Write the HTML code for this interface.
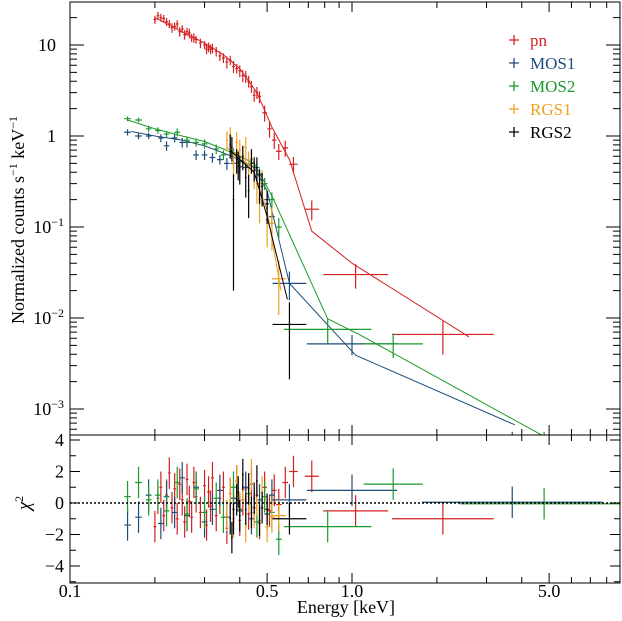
<!DOCTYPE html>
<html><head><meta charset="utf-8"><style>
body{margin:0;background:#fff;}
svg{display:block;font-family:"Liberation Serif",serif;}
</style></head><body>
<svg id="chart" width="622" height="621" viewBox="0 0 622 621" xmlns="http://www.w3.org/2000/svg">
<g id="marks"></g>
<g id="axes"></g>
<text x="346" y="613" font-size="18" text-anchor="middle">Energy [keV]</text>
<text transform="translate(24,220) rotate(-90)" font-size="18" text-anchor="middle">Normalized counts s<tspan dy="-7" font-size="12">−1</tspan><tspan dy="7"> keV</tspan><tspan dy="-7" font-size="12">−1</tspan></text>
<text transform="translate(30,503) rotate(-90)" font-size="19" text-anchor="middle" font-style="italic">χ<tspan dy="-7" font-size="12" font-style="normal">2</tspan></text>
<g font-size="17" font-family="Liberation Serif, serif">
 <g><path d="M509,40h10M514,35v10" stroke="#d42020" stroke-width="1.3"/><text x="530" y="46" fill="#d42020">pn</text></g>
 <g><path d="M509,63h10M514,58v10" stroke="#1d4d7a" stroke-width="1.3"/><text x="530" y="69" fill="#1d4d7a">MOS1</text></g>
 <g><path d="M509,86h10M514,81v10" stroke="#1a9a2a" stroke-width="1.3"/><text x="530" y="92" fill="#1a9a2a">MOS2</text></g>
 <g><path d="M509,109h10M514,104v10" stroke="#f0a020" stroke-width="1.3"/><text x="530" y="115" fill="#f0a020">RGS1</text></g>
 <g><path d="M509,132h10M514,127v10" stroke="#000" stroke-width="1.3"/><text x="530" y="138" fill="#000">RGS2</text></g>
</g>
</svg>
<script>
// ---- data ----
const pnE=[0.20,0.205,0.21,0.215,0.22,0.225,0.23,0.235,0.24,0.245,0.25,0.255,0.26,0.265,0.27,0.275,0.28,0.29,0.30,0.305,0.31,0.315,0.32,0.33,0.34,0.35,0.36,0.37,0.38,0.39,0.40,0.41,0.42,0.43,0.44,0.45,0.46,0.47,0.49,0.51,0.53,0.55,0.58,0.62,0.72,1.03,2.1];
const pnV=[19,21,20,19.5,18,17,15.5,16,17,14,15,13,14,13.5,12,12,11.5,10.5,10,9,9.5,9,9.2,8.5,7.6,7.2,6.5,6.8,5.8,5.5,5.2,4.6,4.5,4.0,3.5,2.8,3.0,2.7,1.8,1.2,0.9,0.68,0.74,0.49,0.157,0.03,0.0066];
const pnErr=[0.1,0.1,0.1,0.1,0.1,0.1,0.12,0.1,0.1,0.12,0.1,0.12,0.1,0.12,0.1,0.12,0.1,0.12,0.1,0.12,0.12,0.12,0.12,0.12,0.12,0.12,0.15,0.12,0.15,0.12,0.15,0.15,0.15,0.15,0.15,0.15,0.15,0.15,0.2,0.2,0.2,0.2,0.2,0.2,0.25,0.3,0.4];
const pnW=[0.005,0.005,0.005,0.005,0.005,0.005,0.005,0.005,0.005,0.005,0.005,0.005,0.005,0.005,0.005,0.005,0.005,0.005,0.005,0.005,0.005,0.005,0.005,0.005,0.005,0.005,0.005,0.005,0.005,0.005,0.005,0.005,0.005,0.005,0.005,0.005,0.005,0.005,0.008,0.008,0.008,0.01,0.01,0.015,0.025,0.115,0.18];
const pnR=[-1.5,0.3,1.0,-0.8,0.5,1.9,-0.3,0.9,-1.0,1.2,0.2,-1.2,1.5,0.1,-0.9,1.3,0.4,-0.6,1.1,-1.4,0.7,-0.2,1.6,-0.8,0.3,1.0,-1.6,0.6,-0.4,1.4,-1.1,0.2,0.9,-0.7,1.2,-0.3,0.5,-1.3,1.0,-0.5,0.8,-0.1,1.3,2.0,1.7,-0.5,-1.0];

const m1E=[0.16,0.175,0.19,0.21,0.22,0.235,0.25,0.26,0.28,0.30,0.32,0.34,0.36,0.38,0.40,0.42,0.44,0.47,0.50,0.52,0.60,1.0,3.7];
const m1V=[1.1,1.0,1.0,0.95,0.78,0.95,0.85,0.85,0.62,0.62,0.58,0.55,0.5,0.5,0.46,0.45,0.5,0.38,0.2,0.13,0.024,0.0052,0.0004];
const m1Err=[0.08,0.08,0.08,0.1,0.12,0.1,0.12,0.12,0.12,0.12,0.12,0.12,0.15,0.12,0.15,0.15,0.15,0.15,0.2,0.2,0.35,0.25,0.4];
const m1W=[0.012,0.012,0.01,0.01,0.01,0.01,0.01,0.01,0.01,0.01,0.01,0.01,0.01,0.01,0.01,0.01,0.01,0.01,0.01,0.01,0.06,0.16,0.32];
const m1R=[-1.4,-0.9,0.5,-1.3,0.4,-0.6,1.6,-0.8,1.0,-1.2,-0.4,0.8,-0.9,0.3,-0.5,1.0,-1.0,0.2,-0.7,0.5,0.2,0.8,0.05];

const m2E=[0.16,0.175,0.19,0.205,0.22,0.24,0.26,0.28,0.30,0.33,0.35,0.38,0.40,0.43,0.46,0.49,0.52,0.55,0.82,1.4,4.8];
const m2V=[1.55,1.5,1.2,1.15,1.05,1.1,0.9,0.85,0.82,0.72,0.62,0.65,0.52,0.48,0.45,0.3,0.2,0.1,0.0075,0.0052,0.0004];
const m2Err=[0.06,0.06,0.08,0.08,0.08,0.1,0.1,0.1,0.12,0.12,0.12,0.12,0.12,0.15,0.15,0.15,0.2,0.25,0.3,0.3,0.4];
const m2W=[0.012,0.012,0.01,0.01,0.01,0.01,0.01,0.01,0.01,0.01,0.01,0.01,0.01,0.01,0.01,0.01,0.01,0.01,0.155,0.105,0.3];
const m2R=[0.4,1.3,0.2,0.5,-0.5,1.3,-0.7,0.9,-0.6,0.3,-0.9,1.0,-0.4,0.6,-1.2,0.4,-0.6,-2.3,-1.5,1.2,-0.05];

const r1E=[0.36,0.37,0.38,0.39,0.40,0.41,0.42,0.43,0.44,0.45,0.46,0.47,0.48,0.50,0.52,0.55];
const r1V=[0.9,1.0,0.5,0.85,0.7,0.6,0.75,0.5,0.55,0.4,0.3,0.2,0.3,0.12,0.11,0.027];
const r1Err=[0.25,0.25,0.3,0.3,0.3,0.3,0.3,0.35,0.3,0.35,0.4,0.45,0.4,0.5,0.5,0.6];
const r1W=[0.004,0.004,0.004,0.004,0.004,0.004,0.004,0.004,0.004,0.004,0.004,0.004,0.004,0.006,0.01,0.025];
const r1R=[-0.8,0.6,-1.2,1.4,-0.3,0.9,-1.5,0.4,1.8,-0.6,0.2,-1.1,0.7,-1.5,-0.9,-0.8];

const r2E=[0.37,0.375,0.38,0.39,0.395,0.40,0.41,0.42,0.43,0.44,0.45,0.46,0.47,0.48,0.50,0.60];
const r2V=[0.8,0.75,0.2,0.55,0.5,0.45,0.6,0.35,0.25,0.55,0.45,0.45,0.3,0.28,0.18,0.0085];
const r2Err=[0.3,0.3,0.9,0.3,0.35,0.35,0.3,0.4,0.5,0.3,0.3,0.3,0.4,0.4,0.4,0.75];
const r2W=[0.003,0.003,0.003,0.003,0.003,0.003,0.003,0.003,0.003,0.003,0.003,0.003,0.003,0.004,0.006,0.06];
const r2R=[-1.0,-2.2,-1.0,0.2,0.7,-0.8,1.8,-0.4,0.9,-0.6,0.3,1.4,-1.1,-0.3,-0.4,-1.0];

const pnModE=[0.20,0.25,0.30,0.35,0.40,0.46,0.52,0.60,0.72,1.0,2.6];
const pnModV=[20,14,10.5,7.8,5.5,3.0,1.25,0.55,0.09,0.04,0.0062];
const m1ModE=[0.165,0.20,0.25,0.30,0.35,0.40,0.45,0.50,0.60,1.03,3.78];
const m1ModV=[1.12,1.0,0.9,0.78,0.65,0.55,0.45,0.25,0.024,0.0039,0.00067];
const m2ModE=[0.16,0.20,0.25,0.30,0.35,0.40,0.45,0.52,0.82,1.07,4.8];
const m2ModV=[1.5,1.2,1.0,0.87,0.72,0.6,0.5,0.22,0.0098,0.0065,0.0005];
const r1ModE=[0.36,0.40,0.45,0.50,0.56];
const r1ModV=[0.75,0.6,0.4,0.15,0.02];
const r2ModE=[0.37,0.40,0.45,0.50,0.59];
const r2ModV=[0.7,0.55,0.4,0.13,0.016];

const yTickVals=[10,1,0.1,0.01,0.001];
const yTickLabels=["10","1","10","10","10"];
const yTickExp=["","","−1","−2","−3"];
const rTickVals=[4,2,0,-2,-4];
const xTickVals=[0.1,0.5,1.0,5.0];
const xTickLabels=["0.1","0.5","1.0","5.0"];

// ---- geometry ----
const L=70,R=620,T=2,MID=435,B=583;
const xp=e=>L+282*(Math.log10(e)+1);
const yp=v=>136-91*Math.log10(v);
const yr=r=>503-15.75*r;
const NS="http://www.w3.org/2000/svg";
function mk(tag,attrs,parent){const el=document.createElementNS(NS,tag);for(const k in attrs)el.setAttribute(k,attrs[k]);parent.appendChild(el);return el;}
const marks=document.getElementById('marks');
const axes=document.getElementById('axes');

const defs=mk('defs',{},marks);
const c1=mk('clipPath',{id:'ctop'},defs);mk('rect',{x:L,y:T,width:R-L,height:MID-T},c1);
const c2=mk('clipPath',{id:'cbot'},defs);mk('rect',{x:L,y:MID,width:R-L,height:B-MID},c2);
const gTop=mk('g',{'clip-path':'url(#ctop)'},marks);
const gBot=mk('g',{'clip-path':'url(#cbot)'},marks);

const series=[
 {n:'pn',c:'#d42020',E:pnE,V:pnV,Er:pnErr,W:pnW,R:pnR,mE:pnModE,mV:pnModV},
 {n:'mos1',c:'#1d4d7a',E:m1E,V:m1V,Er:m1Err,W:m1W,R:m1R,mE:m1ModE,mV:m1ModV},
 {n:'mos2',c:'#1a9a2a',E:m2E,V:m2V,Er:m2Err,W:m2W,R:m2R,mE:m2ModE,mV:m2ModV},
 {n:'rgs1',c:'#f0a020',E:r1E,V:r1V,Er:r1Err,W:r1W,R:r1R,mE:r1ModE,mV:r1ModV},
 {n:'rgs2',c:'#000000',E:r2E,V:r2V,Er:r2Err,W:r2W,R:r2R,mE:r2ModE,mV:r2ModV}
];
series.forEach(s=>{
  const g=mk('g',{},gTop);
  
  
  const gr=mk('g',{},gBot);
  
  
  s.E.forEach((e,i)=>{
    const x=xp(e),x0=xp(e/Math.pow(10,s.W[i])),x1=xp(e*Math.pow(10,s.W[i]));
    const v=s.V[i],lo=Math.max(v*(1-s.Er[i]),v*0.1),hi=v*(1+s.Er[i]);
    const p=mk('path',{d:`M${x0},${yp(v)}H${x1}M${x},${yp(hi)}V${yp(lo)}`,stroke:s.c,'stroke-width':1.2,fill:'none'},g);
    
    
    const r=s.R[i];
    const q=mk('path',{d:`M${x0},${yr(r)}H${x1}M${x},${yr(r+1)}V${yr(r-1)}`,stroke:s.c,'stroke-width':1.2,fill:'none'},gr);
    
    
  });
  const m=mk('polyline',{points:s.mE.map((e,i)=>xp(e)+','+yp(s.mV[i])).join(' '),stroke:s.c,'stroke-width':1,fill:'none'},gTop);
  
  
});
const zl=mk('line',{x1:L,x2:R,y1:yr(0),y2:yr(0),stroke:'#000','stroke-width':1.5,'stroke-dasharray':'2,2'},gBot);



// ---- axes ----
const fr=mk('path',{d:`M${L},${T}H${R}V${B}H${L}ZM${L},${MID}H${R}`,stroke:'#000','stroke-width':1,fill:'none'},axes);


let tk='';
for(let d=-1;d<=0;d++)for(let k=1;k<=9;k++){const e=k*Math.pow(10,d);const x=xp(e);if(x>R)continue;const len=(k==1||k==5)?10:6;
 tk+=`M${x},${B}v${-len}M${x},${MID}v${-len}M${x},${MID}v${len}M${x},${T}v${len}`;}
for(let d=-4;d<=1;d++)for(let k=1;k<=9;k++){const v=k*Math.pow(10,d);const y=yp(v);if(y<T||y>MID)continue;const len=k==1?14:7;
 tk+=`M${L},${y}h${len}M${R},${y}h${-len}`;}
for(let r=-5;r<=4;r++){const y=yr(r);if(y<MID||y>B)continue;const len=r%2==0?10:6;tk+=`M${L},${y}h${len}M${R},${y}h${-len}`;}
mk('path',{d:tk,stroke:'#000','stroke-width':1,fill:'none'},axes);
yTickVals.forEach((v,i)=>{
  const t=mk('text',{x:56,y:yp(v)+6,'font-size':18,'text-anchor':'end'},axes);
  t.textContent=yTickLabels[i];
  
  
  if(yTickExp[i]){const s=mk('tspan',{dy:-7,'font-size':12},t);s.textContent=yTickExp[i];t.setAttribute('x',64);}
});
rTickVals.forEach(r=>{
  const t=mk('text',{x:64,y:yr(r)+6,'font-size':18,'text-anchor':'end'},axes);
  t.textContent=r<0?'−'+(-r):String(r);
  
  
});
xTickVals.forEach((e,i)=>{
  const t=mk('text',{x:xp(e),y:597,'font-size':18,'text-anchor':'middle'},axes);
  t.textContent=xTickLabels[i];
  
  
});
</script>
</body></html>
